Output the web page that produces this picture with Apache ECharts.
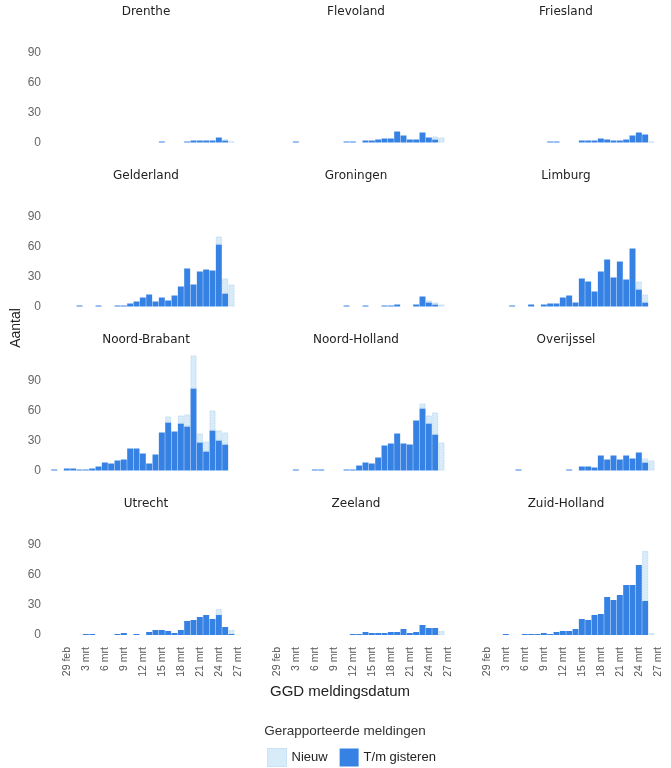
<!DOCTYPE html>
<html>
<head>
<meta charset="utf-8">
<script src="https://cdn.jsdelivr.net/npm/echarts@6/dist/echarts.min.js"></script>
<style>
  html, body { margin: 0; padding: 0; background: #ffffff; }
  #chart { width: 671px; height: 768px; }
</style>
</head>
<body>
<div id="chart"></div>
<script>
// Meldingsdatum (GGD), 27 feb t/m 27 mrt
const dates = ['27 feb','28 feb','29 feb','1 mrt','2 mrt','3 mrt','4 mrt','5 mrt','6 mrt','7 mrt',
  '8 mrt','9 mrt','10 mrt','11 mrt','12 mrt','13 mrt','14 mrt','15 mrt','16 mrt','17 mrt',
  '18 mrt','19 mrt','20 mrt','21 mrt','22 mrt','23 mrt','24 mrt','25 mrt','26 mrt','27 mrt'];
const tickDates = ['29 feb','3 mrt','6 mrt','9 mrt','12 mrt','15 mrt','18 mrt','21 mrt','24 mrt','27 mrt'];
const yTicks = [0, 30, 60, 90];

const provinces = ['Drenthe','Flevoland','Friesland','Gelderland','Groningen','Limburg',
  'Noord-Brabant','Noord-Holland','Overijssel','Utrecht','Zeeland','Zuid-Holland'];

// Aantal meldingen t/m gisteren en nieuw gemelde, per provincie
const drentheTm      = [0,0,0,0,0, 0,0,0,0,0, 0,0,0,0,0, 0,0,1,0,0, 0,1,2,2,2, 2,5,2,0,0];
const drentheNieuw   = [0,0,0,0,0, 0,0,0,0,0, 0,0,0,0,0, 0,0,0,0,0, 0,0,0,0,0, 0,0,1,1,0];
const flevolandTm    = [0,0,0,0,0, 1,0,0,0,0, 0,0,0,1,1, 0,2,2,3,4, 4,11,7,3,3, 10,5,3,0,0];
const flevolandNieuw = [0,0,0,0,0, 0,0,0,0,0, 0,0,0,0,0, 0,0,0,0,0, 0,0,0,0,0, 0,0,3,5,0];
const frieslandTm    = [0,0,0,0,0, 0,0,0,0,0, 0,0,1,1,0, 0,0,2,2,2, 4,3,2,2,3, 7,10,8,0,0];
const frieslandNieuw = [0,0,0,0,0, 0,0,0,0,0, 0,0,0,0,0, 0,0,0,0,0, 0,0,0,0,0, 0,0,0,1,0];
const gelderlandTm   = [0,0,0,0,1, 0,0,1,0,0, 1,1,3,5,9, 12,5,9,6,11, 20,38,22,35,37, 36,62,13,0,0];
const gelderlandNieuw= [0,0,0,0,0, 0,0,0,0,0, 0,0,0,0,0, 0,0,0,0,0, 0,0,0,0,0, 0,8,15,22,0];
const groningenTm    = [0,0,0,0,0, 0,0,0,0,0, 0,0,0,1,0, 0,1,0,0,1, 1,2,0,0,2, 10,4,2,0,0];
const groningenNieuw = [0,0,0,0,0, 0,0,0,0,0, 0,0,0,0,0, 0,0,0,0,0, 0,0,0,0,0, 0,2,2,2,0];
const limburgTm      = [0,0,0,0,0, 0,1,0,0,2, 0,2,3,3,9, 11,4,28,25,15, 35,47,29,45,27, 58,17,4,0,0];
const limburgNieuw   = [0,0,0,0,0, 0,0,0,0,0, 0,0,0,0,0, 0,0,0,0,0, 0,0,0,0,0, 0,8,8,0,0];
const brabantTm      = [1,0,2,2,1, 1,2,4,8,7, 10,11,22,22,17, 7,16,38,48,39, 47,44,82,28,19, 40,30,26,0,0];
const brabantNieuw   = [0,0,0,0,0, 0,0,0,0,0, 0,0,0,0,0, 0,0,0,6,0, 8,12,33,9,10, 20,10,12,0,0];
const nhollandTm     = [0,0,0,0,0, 1,0,0,1,1, 0,0,0,1,1, 5,8,7,13,25, 27,37,27,26,50, 62,47,36,0,0];
const nhollandNieuw  = [0,0,0,0,0, 0,0,0,0,0, 0,0,0,0,0, 0,0,0,0,0, 0,0,0,0,0, 5,8,22,28,0];
const overijsselTm   = [0,0,0,0,0, 0,0,1,0,0, 0,0,0,0,0, 1,0,4,4,3, 15,11,15,11,15, 12,18,8,0,0];
const overijsselNieuw= [0,0,0,0,0, 0,0,0,0,0, 0,0,0,0,0, 0,0,0,0,0, 0,0,0,0,0, 0,0,4,10,0];
const utrechtTm      = [0,0,0,0,0, 1,1,0,0,0, 1,2,0,1,0, 3,5,5,4,2, 5,14,15,18,20, 16,20,8,1,0];
const utrechtNieuw   = [0,0,0,0,0, 0,0,0,0,0, 0,0,0,0,0, 0,0,0,0,0, 0,0,0,0,0, 0,6,0,4,0];
const zeelandTm      = [0,0,0,0,0, 0,0,0,0,0, 0,0,0,0,1, 1,3,2,2,2, 3,3,6,2,3, 10,7,7,0,0];
const zeelandNieuw   = [0,0,0,0,0, 0,0,0,0,0, 0,0,0,0,0, 0,0,0,0,0, 0,0,0,0,0, 0,0,0,4,0];
const zhollandTm     = [0,0,0,0,0, 1,0,0,1,1, 1,2,1,3,4, 4,6,16,15,20, 21,38,35,40,50, 50,70,34,0,0];
const zhollandNieuw  = [0,0,0,0,0, 0,0,0,0,0, 0,0,0,0,0, 0,0,0,0,0, 0,0,0,0,0, 0,0,50,2,0];

const tmSeries = [drentheTm, flevolandTm, frieslandTm, gelderlandTm, groningenTm, limburgTm,
  brabantTm, nhollandTm, overijsselTm, utrechtTm, zeelandTm, zhollandTm];
const nieuwSeries = [drentheNieuw, flevolandNieuw, frieslandNieuw, gelderlandNieuw, groningenNieuw, limburgNieuw,
  brabantNieuw, nhollandNieuw, overijsselNieuw, utrechtNieuw, zeelandNieuw, zhollandNieuw];

const BLUE = '#3582e4';
const LIGHT = '#d8ebf8';
const LIGHT_EDGE = '#a9cfee';
const FONT = '"Liberation Sans", Arial, sans-serif';
const TITLE_FONT = '"DejaVu Sans", Verdana, sans-serif';

// panel geometry (px)
const colLeft = [51, 261, 471];
const panelWidth = 190;
const rowBase = [142.5, 306.5, 470.5, 635];
const yMax = 120;

// days without reports get no bar at all
const bars = arr => arr.map(v => (v > 0 ? v : null));

const chart = echarts.init(document.getElementById('chart'), null, { renderer: 'canvas' });

const grids = [], xAxes = [], yAxes = [], series = [], graphics = [];
provinces.forEach((name, k) => {
  const r = Math.floor(k / 3), c = k % 3;
  const top = rowBase[r] - yMax;
  grids.push({ left: colLeft[c], top: top, width: panelWidth, height: yMax });
  xAxes.push({
    type: 'category', gridIndex: k, data: dates,
    axisLine: { show: false }, axisTick: { show: false },
    axisLabel: {
      show: r === 3, rotate: 90, margin: 12, fontSize: 10.5, color: '#555',
      fontFamily: FONT,
      interval: (i, v) => tickDates.indexOf(v) >= 0
    }
  });
  yAxes.push({
    type: 'value', gridIndex: k, min: 0, max: yMax, interval: 30,
    axisLine: { show: false }, axisTick: { show: false }, splitLine: { show: false },
    axisLabel: {
      show: c === 0, fontSize: 12, color: '#666', fontFamily: FONT, margin: 10,
      showMaxLabel: false,
      formatter: v => (yTicks.indexOf(v) >= 0 ? String(v) : '')
    }
  });
  series.push({
    name: 'T/m gisteren', type: 'bar', stack: 'p' + k, xAxisIndex: k, yAxisIndex: k,
    data: bars(tmSeries[k]), barCategoryGap: '6%',
    itemStyle: { color: BLUE }
  });
  series.push({
    name: 'Nieuw', type: 'bar', stack: 'p' + k, xAxisIndex: k, yAxisIndex: k,
    data: bars(nieuwSeries[k]), barCategoryGap: '6%',
    itemStyle: { color: LIGHT, borderColor: LIGHT_EDGE, borderWidth: 0.8, borderType: 'dotted' }
  });
  graphics.push({
    type: 'text', x: colLeft[c] + panelWidth / 2, y: rowBase[r] - 131,
    style: { text: name, fill: '#222', font: '12px ' + TITLE_FONT, textAlign: 'center', textVerticalAlign: 'middle' }
  });
});

graphics.push({
  type: 'text', x: 16, y: 328, rotation: Math.PI / 2,
  style: { text: 'Aantal', fill: '#222', font: '14px ' + FONT, textAlign: 'center', textVerticalAlign: 'middle' }
});
graphics.push({
  type: 'text', x: 340, y: 692,
  style: { text: 'GGD meldingsdatum', fill: '#222', font: '15px ' + FONT, textAlign: 'center', textVerticalAlign: 'middle' }
});
graphics.push({
  type: 'text', x: 345, y: 731,
  style: { text: 'Gerapporteerde meldingen', fill: '#333', font: '13.5px ' + FONT, textAlign: 'center', textVerticalAlign: 'middle' }
});

chart.setOption({
  backgroundColor: '#ffffff',
  animation: false,
  grid: grids,
  xAxis: xAxes,
  yAxis: yAxes,
  series: series,
  legend: {
    data: [
      { name: 'Nieuw', icon: 'rect', itemStyle: { color: LIGHT, borderColor: LIGHT_EDGE, borderWidth: 1, borderType: 'dotted' } },
      { name: 'T/m gisteren', icon: 'rect', itemStyle: { color: BLUE } }
    ],
    left: 262, top: 743, itemWidth: 19, itemHeight: 18, itemGap: 12,
    textStyle: { fontSize: 13, color: '#222', fontFamily: FONT }
  },
  graphic: graphics
});
</script>
</body>
</html>
